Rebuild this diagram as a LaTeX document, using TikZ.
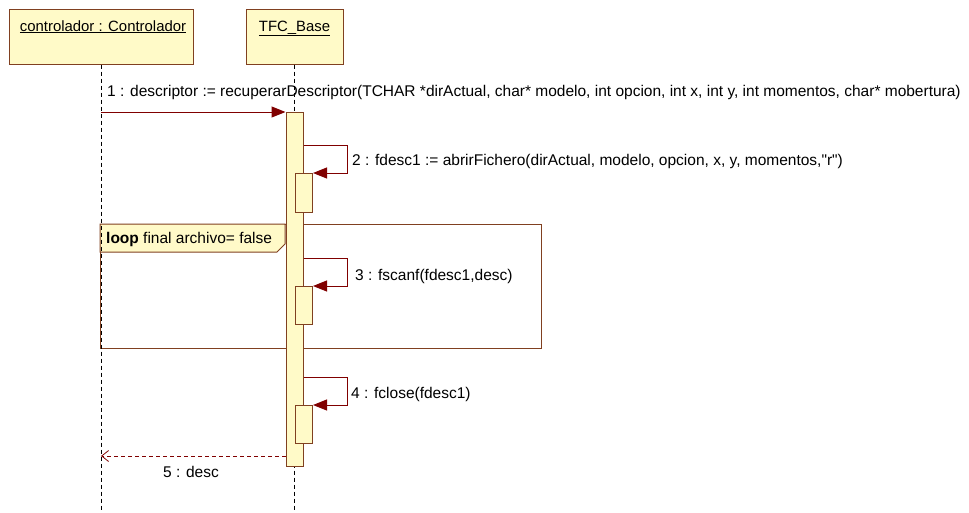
\documentclass[tikz,border=0pt]{standalone}
\usepackage{fontspec}
\setmainfont{Liberation Sans}
\usetikzlibrary{arrows.meta,positioning,calc}
\definecolor{umlfill}{RGB}{255,250,200}
\definecolor{umlbrown}{RGB}{128,64,32}
\definecolor{umlred}{RGB}{128,0,0}

\begin{document}
\begin{tikzpicture}[
  x=1pt, y=-1pt,
  font=\fontsize{15.5}{18}\selectfont,
  objbox/.style   = {draw=umlbrown, fill=umlfill, line width=1pt,
                     minimum height=55pt, inner sep=0pt},
  objtext/.style  = {anchor=base, inner sep=0pt, font=\fontsize{14.9}{17}\selectfont},
  actbar/.style   = {draw=umlbrown, fill=umlfill, line width=1pt,
                     minimum width=17pt, inner sep=0pt, anchor=north},
  lifeline/.style = {black, line width=0.8pt, dash pattern=on 4pt off 3pt},
  msgarr/.style   = {umlred, line width=1pt,
                     -{Triangle[length=14pt, width=11pt]}},
  selfarr/.style  = {umlred, line width=1pt,
                     -{Triangle[length=14pt, width=11pt]}},
  retarr/.style   = {umlred, line width=0.8pt, dash pattern=on 4pt off 3pt,
                     -{Straight Barb[length=7pt, width=11pt]}},
  msglabel/.style = {anchor=base west, inner sep=0pt},
  loopframe/.style= {draw=umlbrown, line width=1pt, inner sep=0pt,
                     minimum width=441pt, minimum height=124pt, anchor=north west},
]
\useasboundingbox (0,0) rectangle (969,512);

% objects
\node[objbox, minimum width=184pt] (ctrl) at (101,36.5) {};
\node[objtext] (ctrltxt) at (103,31) {\underline{controlador : Controlador}};
\node[objbox, minimum width=97pt] (tfc) at (294.5,36.5) {};
\node[objtext] (tfctxt) at (294.5,31) {\underline{TFC\_Base}};

% loop fragment
\node[loopframe] (loop) at (100,224) {};
\draw[umlbrown, line width=1pt, fill=umlfill] (loop.north west) -- ++(185,0)
  -- ++(0,20) -- ++(-8,8) -- ($(loop.north west)+(0,28)$) -- cycle;
\node[msglabel] (looplbl) at (106,243) {\textbf{loop} final archivo= false};

% lifelines
\coordinate (ctrlend) at (ctrl.south |- 0,512);
\coordinate (tfcend) at (tfc.south |- 0,512);
\draw[lifeline] (ctrl.south) -- (ctrlend);
\draw[lifeline] (tfc.south) -- (tfcend);

% activations
\node[actbar, minimum height=354pt] (actmain) at (294.5,112) {};
\node[actbar, minimum height=39pt]  (act2) at (304,173) {};
\node[actbar, minimum height=38pt]  (act3) at (304,286) {};
\node[actbar, minimum height=38pt]  (act4) at (304,405) {};

% 1: call
\coordinate (m1) at (ctrl.south |- actmain.north);
\draw[msgarr] (m1) -- (actmain.north west);
\node[msglabel] (lbl1) at (107,96)
  {1 : descriptor := recuperarDescriptor(TCHAR *dirActual, char* modelo, int opcion, int x, int y, int momentos, char* mobertura)};

% 2: self call
\coordinate (m2) at (actmain.east |- 0,145);
\draw[selfarr] (m2) -- ++(44,0) |- (act2.north east);
\node[msglabel] (lbl2) at (352,165)
  {2 : fdesc1 := abrirFichero(dirActual, modelo, opcion, x, y, momentos,\textquotedbl r\textquotedbl)};

% 3: self call inside loop
\coordinate (m3) at (actmain.east |- 0,258);
\draw[selfarr] (m3) -- ++(44,0) |- (act3.north east);
\node[msglabel] (lbl3) at (355,280) {3 : fscanf(fdesc1,desc)};

% 4: self call
\coordinate (m4) at (actmain.east |- 0,377);
\draw[selfarr] (m4) -- ++(44,0) |- (act4.north east);
\node[msglabel] (lbl4) at (351,398) {4 : fclose(fdesc1)};

% 5: return
\coordinate (r5) at (actmain.west |- 0,456);
\coordinate (r5end) at (ctrl.south |- r5);
\draw[retarr] (r5) -- (r5end);
\node[anchor=base, inner sep=0pt] (lbl5) at (191,477) {5 : desc};
\end{tikzpicture}
\end{document}
